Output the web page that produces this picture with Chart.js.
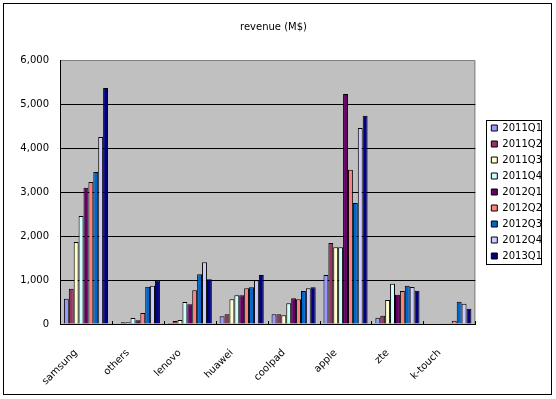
<!DOCTYPE html>
<html>
<head>
<meta charset="utf-8">
<title>revenue (M$)</title>
<script src="https://cdn.jsdelivr.net/npm/chart.js@4/dist/chart.umd.min.js"></script>
<style>
  html, body { margin: 0; padding: 0; background: #fff; }
  canvas { display: block; }
</style>
</head>
<body>
<canvas id="chart" width="556" height="399"></canvas>
<script>
// categories and quarterly revenue (M$)
const vendors = ["samsung", "others", "lenovo", "huawei", "coolpad", "apple", "zte", "k-touch"];
const quarters = ["2011Q1", "2011Q2", "2011Q3", "2011Q4", "2012Q1", "2012Q2", "2012Q3", "2012Q4", "2013Q1"];

const rev2011Q1 = [576, 10, 25, 174, 220, 1114, 144, 0];
const rev2011Q2 = [803, 38, 68, 220, 220, 1841, 186, 0];
const rev2011Q3 = [1864, 38, 91, 561, 197, 1742, 548, 0];
const rev2011Q4 = [2455, 135, 500, 652, 470, 1742, 916, 10];
const rev2012Q1 = [3098, 88, 447, 652, 583, 5227, 664, 15];
const rev2012Q2 = [3227, 250, 765, 811, 561, 3508, 748, 76];
const rev2012Q3 = [3455, 848, 1129, 833, 750, 2750, 870, 504];
const rev2012Q4 = [4250, 871, 1402, 992, 815, 4455, 840, 458];
const rev2013Q1 = [5364, 992, 1015, 1114, 838, 4735, 756, 344];

const yMin = 0;
const yMax = 6000;
const yStep = 1000;

const series = [rev2011Q1, rev2011Q2, rev2011Q3, rev2011Q4, rev2012Q1, rev2012Q2, rev2012Q3, rev2012Q4, rev2013Q1];
// old excel palette
const colors = ["#9999FF", "#993366", "#FFFFCC", "#CCFFFF", "#660066", "#FF8080", "#0066CC", "#CCCCFF", "#000080"];

const font = { family: "'DejaVu Sans', sans-serif", size: 10 };

// grey plot area + outer frame + legend frame
const framePlugin = {
  id: "frame",
  afterLayout(chart) {
    // keep a gap between plot area and legend
    const lg = chart.legend;
    lg.left += 10;
    lg.right += 10;
  },
  beforeDraw(chart) {
    const { ctx, chartArea: a } = chart;
    ctx.save();
    ctx.fillStyle = "#fff";
    ctx.fillRect(0, 0, chart.width, chart.height);
    ctx.fillStyle = "#C0C0C0";
    ctx.fillRect(a.left, a.top, a.right - a.left, a.bottom - a.top);
    ctx.strokeStyle = "#808080";
    ctx.lineWidth = 1;
    ctx.beginPath();
    ctx.moveTo(a.left, a.top + 0.5);
    ctx.lineTo(a.right - 0.5, a.top + 0.5);
    ctx.lineTo(a.right - 0.5, a.bottom);
    ctx.stroke();
    ctx.restore();
  },
  afterDatasetsDraw(chart) {
    // short tick marks between categories, pointing into the plot
    const { ctx, chartArea: a } = chart;
    const x = chart.scales.x;
    ctx.save();
    ctx.strokeStyle = "#000";
    ctx.lineWidth = 1;
    ctx.beginPath();
    for (let i = 0; i <= vendors.length; i++) {
      const px = Math.round(x.getPixelForValue(i - 0.5)) + 0.5;
      ctx.moveTo(px, a.bottom);
      ctx.lineTo(px, a.bottom - 3);
    }
    ctx.stroke();
    ctx.restore();
  },
  afterDraw(chart) {
    const { ctx } = chart;
    ctx.save();
    ctx.strokeStyle = "#000";
    ctx.lineWidth = 1;
    ctx.strokeRect(3.5, 3.5, chart.width - 8, chart.height - 8);
    const boxes = chart.legend.legendHitBoxes;
    if (boxes && boxes.length) {
      const lg = chart.legend;
      const top = Math.min(...boxes.map(b => b.top));
      const bottom = Math.max(...boxes.map(b => b.top + b.height));
      const w = Math.max(...boxes.map(b => b.width));
      const x0 = lg.left + 6 - 5;
      const colH = lg.columnSizes[0].height;
      const y0 = (lg.top + 6 + lg.bottom - colH) / 2 - 3;
      ctx.strokeRect(Math.round(x0) + 0.5, Math.round(y0) + 0.5, Math.round(w + 4), Math.round(bottom - top + 6));
    }
    ctx.restore();
  }
};

new Chart(document.getElementById("chart"), {
  type: "bar",
  data: {
    labels: vendors,
    datasets: quarters.map((q, i) => ({
      label: q,
      data: series[i],
      backgroundColor: colors[i],
      borderColor: "#000",
      borderWidth: 1,
      borderSkipped: "start",
      categoryPercentage: 0.85,
      barPercentage: 1.0
    }))
  },
  options: {
    responsive: false,
    animation: false,
    devicePixelRatio: 1,
    layout: { padding: { left: 5, top: 3, right: 14, bottom: 5 } },
    plugins: {
      title: {
        display: true,
        text: "revenue (M$)",
        color: "#000",
        font: { ...font, weight: "normal" },
        padding: { top: 18, bottom: 27 }
      },
      legend: {
        position: "right",
        fullSize: false,
        labels: {
          color: "#000",
          font: font,
          boxWidth: 6,
          boxHeight: 6,
          padding: 6
        }
      },
      tooltip: { enabled: false }
    },
    scales: {
      x: {
        afterFit(scale) { scale.height = 70; },
        border: { color: "#000", width: 1 },
        grid: { display: false },
        ticks: {
          color: "#000",
          font: font,
          minRotation: 45,
          maxRotation: 45,
          autoSkip: false,
          padding: 15,
          labelOffset: -10
        }
      },
      y: {
        min: yMin,
        max: yMax,
        afterFit(scale) { scale.width = 55; },
        border: { color: "#000", width: 1 },
        grid: {
          drawTicks: false,
          color: ctx => (ctx.tick && ctx.tick.value === yMax ? "rgba(0,0,0,0)" : "#000")
        },
        ticks: {
          stepSize: yStep,
          color: "#000",
          font: font,
          padding: 11
        }
      }
    }
  },
  plugins: [framePlugin]
});
</script>
</body>
</html>
